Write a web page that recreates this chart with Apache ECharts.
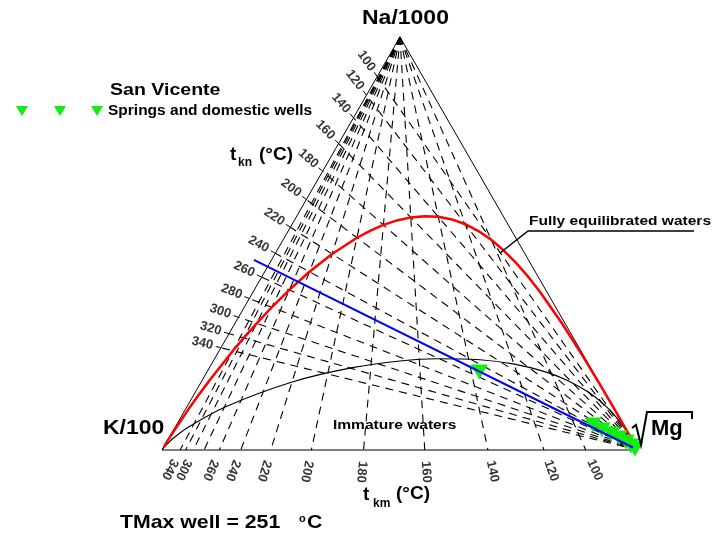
<!DOCTYPE html>
<html>
<head>
<meta charset="utf-8">
<title>Na-K-Mg ternary diagram</title>
<script src="https://cdn.jsdelivr.net/npm/echarts@6/dist/echarts.min.js"></script>
<style>
  html, body { margin: 0; padding: 0; background: #ffffff; }
  #chart { width: 712px; height: 536px; }
</style>
</head>
<body>
<div id="chart"></div>
<script>
// Na-K isotherms (t_kn): temperature (°C) and Na/1000 share (%) where each meets the Na/1000 - K/100 edge
const tknTemps  = [100, 120, 140, 160, 180, 200, 220, 240, 260, 280, 300, 320, 340];
const tknEdgeNa = [90.42, 85.92, 80.45, 74.21, 67.50, 60.65, 53.94, 47.63, 41.86, 36.68, 32.13, 28.17, 24.75];

// K-Mg isotherms (t_km): temperature (°C) and K/100 share (%) on the K/100 - sqrt(Mg) edge
const tkmTemps  = [100, 120, 140, 160, 180, 200, 220, 240, 260, 280, 300, 320, 340];
const tkmEdgeK  = [10.98, 19.76, 31.52, 44.80, 57.66, 68.62, 77.16, 83.46, 87.97, 91.17, 93.43, 95.04, 96.20];
const tkmLabelled = [100, 120, 140, 160, 180, 200, 220, 240, 260, 300, 340];

// Full equilibrium curve, Na/1000 - K/100 - sqrt(Mg) in %
const eqNa = [2.60, 5.37, 9.70, 15.57, 22.73, 30.56, 38.32, 41.95, 45.31, 48.30, 50.89, 53.02, 54.67, 55.83, 56.47, 56.62, 56.32, 55.59, 54.50, 53.08, 51.40, 47.47, 43.15, 38.77, 34.56, 30.66, 27.15, 24.04, 16.85, 12.82, 9.97, 4.55, 2.15, 0.72];
const eqK  = [0.0004, 0.003, 0.018, 0.07, 0.23, 0.63, 1.45, 2.10, 2.95, 4.04, 5.39, 7.02, 8.96, 11.19, 13.72, 16.53, 19.57, 22.83, 26.24, 29.76, 33.35, 40.54, 47.44, 53.86, 59.66, 64.78, 69.23, 73.08, 81.61, 86.21, 89.39, 95.28, 97.80, 99.27];
const eqMg = [97.40, 94.63, 90.28, 84.36, 77.04, 68.81, 60.23, 55.95, 51.74, 47.66, 43.72, 39.96, 36.37, 32.98, 29.81, 26.86, 24.11, 21.59, 19.27, 17.16, 15.26, 12.00, 9.40, 7.36, 5.78, 4.56, 3.61, 2.88, 1.54, 0.97, 0.64, 0.18, 0.05, 0.01];

// Immature waters boundary, Na/1000 - K/100 - sqrt(Mg) in %
const immNa = [0.17, 0.70, 2.90, 5.53, 10.48, 16.52, 19.93, 21.55, 22.10, 21.85, 20.84, 18.96, 16.82, 13.84, 10.62, 7.88, 5.21, 3.19, 1.39];
const immK  = [99.82, 99.20, 96.14, 91.71, 81.38, 64.21, 50.04, 39.22, 31.16, 22.33, 15.83, 10.13, 6.40, 3.31, 1.47, 0.61, 0.19, 0.05, 0.005];
const immMg = [0.01, 0.10, 0.96, 2.75, 8.14, 19.26, 30.03, 39.22, 46.74, 55.82, 63.33, 70.91, 76.78, 82.85, 87.92, 91.51, 94.60, 96.76, 98.61];

// San Vicente springs and domestic wells
const sampleNa = [18.90, 6.05, 4.84, 3.87, 2.91, 1.94, 0.97, 0.24];
const sampleK  = [23.90, 6.43, 5.14, 3.73, 2.53, 1.55, 0.99, 0.51];
const sampleMg = [57.20, 87.52, 90.02, 92.40, 94.56, 96.51, 98.04, 99.25];

// 251 °C Na-K isotherm (TMax of the well), run slightly past the edge
const tmaxNa = [0.61, 46.02];
const tmaxK  = [0.77, 57.68];
const tmaxMg = [98.62, -3.70];

const FONT = '"Liberation Sans", Arial, Helvetica, sans-serif';
const H = Math.sqrt(3) / 2 * 100;   // triangle height in axis units

// ternary composition -> plane coordinates (Na/1000 at the apex, K/100 left, sqrt(Mg) right)
function toXY(na, k, mg) {
  const s = na + k + mg;
  return [(mg + na / 2) / s * 100, na / s * H];
}
const V_NA = toXY(1, 0, 0), V_K = toXY(0, 1, 0), V_MG = toXY(0, 0, 1);

function unit(a, b) {
  const dx = b[0] - a[0], dy = b[1] - a[1], l = Math.hypot(dx, dy);
  return [dx / l, dy / l];
}
const deg = r => r * 180 / Math.PI;

const tknEdge = tknEdgeNa.map(f => toXY(f, 100 - f, 0));
const tkmEdge = tkmEdgeK.map(g => toXY(0, g, 100 - g));

const tknLines = tknEdge.map(p => ({ coords: [V_MG, p] }));
const tkmLines = tkmEdge.map(p => ({ coords: [V_NA, p] }));
const tknTicks = tknEdge.map(p => {
  const d = unit(p, V_MG);
  return { coords: [p, [p[0] - d[0] * 1.1, p[1] - d[1] * 1.1]] };
});

const tknLabelData = tknEdge.map((p, i) => {
  const d = unit(p, V_MG);
  return {
    name: String(tknTemps[i]),
    value: [p[0] - d[0] * 4.0, p[1] - d[1] * 4.0],
    label: { rotate: deg(Math.atan2(d[1], d[0])) }
  };
});
const tkmLabelData = [];
tkmEdge.forEach((p, i) => {
  if (tkmLabelled.indexOf(tkmTemps[i]) < 0) return;
  const d = unit(V_NA, p);
  tkmLabelData.push({
    name: String(tkmTemps[i]),
    value: [p[0] + d[0] * 4.6, p[1] + d[1] * 4.6],
    label: { rotate: deg(Math.atan2(d[1], d[0])) }
  });
});

const eqCurve = eqNa.map((n, i) => toXY(n, eqK[i], eqMg[i]));
const immCurve = immNa.map((n, i) => toXY(n, immK[i], immMg[i]));
const samples = sampleNa.map((n, i) => toXY(n, sampleK[i], sampleMg[i]));
const tmaxLine = tmaxNa.map((n, i) => toXY(n, tmaxK[i], tmaxMg[i]));

const SERIES_NAME = 'Springs and domestic wells';
const GREEN = '#12ee12';

function txt(x, y, text, size, opts) {
  opts = opts || {};
  return {
    type: 'text', x: x, y: y, z: 20,
    scaleX: opts.scaleX || 1,
    style: {
      text: text, fill: '#000',
      font: (opts.weight || 'bold') + ' ' + size + 'px ' + FONT,
      textAlign: 'left', textVerticalAlign: 'middle',
      align: 'left', verticalAlign: 'middle'
    }
  };
}

const tickLabel = {
  show: true, position: 'inside', formatter: '{b}',
  fontFamily: FONT, fontSize: 13, fontWeight: 'bold', color: '#000',
  align: 'center', verticalAlign: 'middle'
};

const chart = echarts.init(document.getElementById('chart'), null, { renderer: 'canvas' });

chart.setOption({
  animation: false,
  backgroundColor: '#ffffff',
  grid: { left: 162, top: 37, width: 476, height: 413, containLabel: false },
  xAxis: { type: 'value', min: 0, max: 100, show: false },
  yAxis: { type: 'value', min: 0, max: H, show: false },
  legend: {
    left: 16, top: 103, padding: 0,
    itemWidth: 87, itemHeight: 11,
    data: [{ name: SERIES_NAME, icon: 'path://M0,0L12,0L6,10Z M38,0L50,0L44,10Z M75,0L87,0L81,10Z' }],
    textStyle: { fontFamily: FONT, fontWeight: 'bold', fontSize: 15.5, color: '#000' },
    selectedMode: false
  },
  graphic: [
    txt(110, 90, 'San Vicente', 17, { scaleX: 1.15 }),
    txt(362, 18, 'Na/1000', 20, { scaleX: 1.15 }),
    txt(103, 428, 'K/100', 20, { scaleX: 1.15 }),
    txt(651, 429, 'Mg', 22),
    {
      type: 'polyline', z: 20,
      shape: { points: [[632, 428], [636, 425], [641, 445], [647, 412], [692, 412], [692, 419]] },
      style: { stroke: '#000', lineWidth: 2, fill: null }
    },
    txt(230, 155, 't', 19),
    txt(238, 163, 'kn', 12),
    txt(259, 155, '(°C)', 19),
    txt(363, 495, 't', 19),
    txt(373, 504, 'km', 12),
    txt(396, 494, '(°C)', 19),
    txt(120, 523, 'TMax well = 251', 18.5, { scaleX: 1.15 }),
    txt(299, 519, 'o', 11),
    txt(307, 523, 'C', 18.5, { scaleX: 1.15 }),
    txt(333, 425.5, 'Immature waters', 13.5, { scaleX: 1.15 }),
    txt(529, 221.5, 'Fully equilibrated waters', 13.5, { scaleX: 1.15 }),
    {
      type: 'polyline', z: 20,
      shape: { points: [[500, 253], [528, 231], [694, 231]] },
      style: { stroke: '#000', lineWidth: 1.5, fill: null }
    }
  ],
  series: [
    {
      type: 'lines', coordinateSystem: 'cartesian2d', silent: true, clip: false, z: 1,
      lineStyle: { color: '#000', width: 1.1, type: [8, 6], opacity: 1 },
      data: tknLines
    },
    {
      type: 'lines', coordinateSystem: 'cartesian2d', silent: true, clip: false, z: 1,
      lineStyle: { color: '#000', width: 1.1, type: [8, 6], opacity: 1 },
      data: tkmLines
    },
    {
      type: 'lines', coordinateSystem: 'cartesian2d', silent: true, clip: false, z: 2,
      lineStyle: { color: '#000', width: 1, opacity: 1 },
      data: tknTicks
    },
    {
      type: 'lines', coordinateSystem: 'cartesian2d', polyline: true, silent: true, clip: false, z: 2,
      lineStyle: { color: '#000', width: 1, opacity: 1 },
      data: [{ coords: [V_K, V_NA, V_MG, V_K] }]
    },
    {
      type: 'line', silent: true, clip: false, z: 3, symbol: 'none', smooth: 0.3,
      lineStyle: { color: '#000', width: 1.2 },
      data: immCurve
    },
    {
      type: 'line', silent: true, clip: false, z: 3, symbol: 'none', smooth: false,
      lineStyle: { color: '#ff0000', width: 2.5, join: 'round' },
      data: eqCurve
    },
    {
      name: SERIES_NAME, type: 'scatter', clip: false, z: 4,
      symbol: 'triangle', symbolRotate: 180, symbolSize: [17, 15],
      itemStyle: { color: GREEN, opacity: 1 },
      data: samples
    },
    {
      type: 'line', silent: true, clip: false, z: 5, symbol: 'none',
      lineStyle: { color: '#0000ff', width: 2 },
      data: tmaxLine
    },
    {
      type: 'scatter', silent: true, clip: false, z: 6, symbolSize: 0,
      label: tickLabel,
      data: tknLabelData
    },
    {
      type: 'scatter', silent: true, clip: false, z: 6, symbolSize: 0,
      label: tickLabel,
      data: tkmLabelData
    }
  ]
});
</script>
</body>
</html>
